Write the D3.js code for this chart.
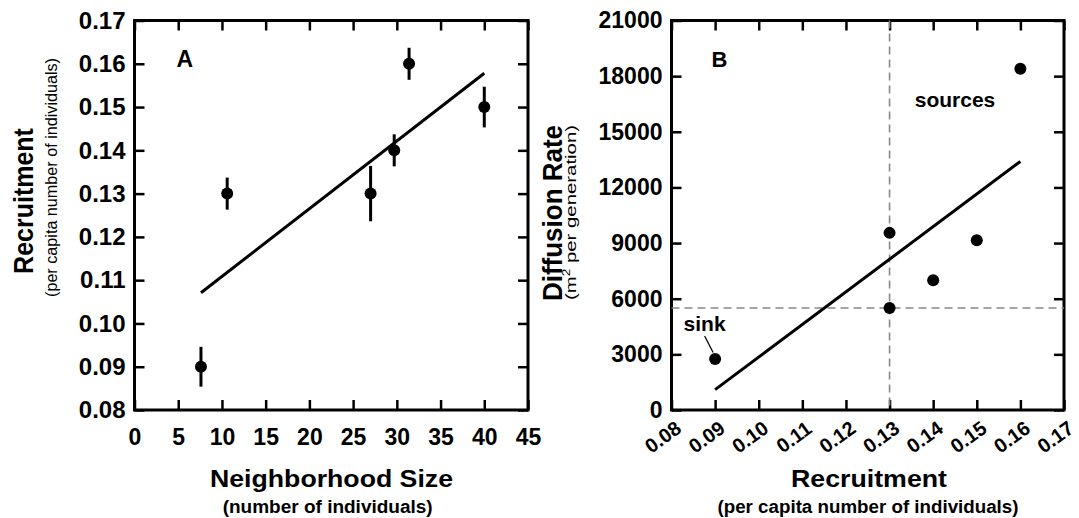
<!DOCTYPE html>
<html>
<head>
<meta charset="utf-8">
<script src="https://cdn.jsdelivr.net/npm/d3@7"></script>
<style>
  body { margin: 0; background: #fff; }
  svg text { font-family: "Liberation Sans", Arial, sans-serif; fill: #000; }
</style>
</head>
<body>
<div id="chart"></div>
<script>
// panel A: recruitment vs neighborhood size
var neighSize = [7.6, 10.6, 27.0, 29.7, 31.4, 40.0];
var recruitA = [0.09, 0.13, 0.13, 0.14, 0.16, 0.15];
var recruitErr = [0.0046, 0.0037, 0.0064, 0.0037, 0.0037, 0.0047];
var fitAx = [7.6, 40];
var fitAy = [0.1071, 0.1578];
var ticksAx = [0, 5, 10, 15, 20, 25, 30, 35, 40, 45];
var ticksAy = [0.08, 0.09, 0.10, 0.11, 0.12, 0.13, 0.14, 0.15, 0.16, 0.17];

// panel B: diffusion rate vs recruitment
var recruitB = [0.09, 0.13, 0.13, 0.14, 0.15, 0.16];
var diffusion = [2750, 9550, 5500, 7000, 9150, 18400];
var fitBx = [0.09, 0.16];
var fitBy = [1100, 13400];
var threshX = 0.13;
var threshY = 5500;
var ticksBx = [0.08, 0.09, 0.10, 0.11, 0.12, 0.13, 0.14, 0.15, 0.16, 0.17];
var ticksBy = [0, 3000, 6000, 9000, 12000, 15000, 18000, 21000];

var W = 1079, H = 518;
var svg = d3.select("#chart").append("svg")
    .attr("width", W)
    .attr("height", H);

var xA = d3.scaleLinear().domain([0, 45]).range([134.5, 528]);
var yA = d3.scaleLinear().domain([0.08, 0.17]).range([410, 20.5]);
var xB = d3.scaleLinear().domain([0.08, 0.17]).range([671.5, 1064]);
var yB = d3.scaleLinear().domain([0, 21000]).range([410, 20.5]);

// frame with inward ticks on all four sides
function drawFrame(x, y, xt, yt, xfmt, yfmt) {
  var x0 = x.range()[0], x1 = x.range()[1];
  var y0 = y.range()[0], y1 = y.range()[1];
  var g = svg.append("g");

  var bottom = g.append("g").attr("transform", "translate(0," + y0 + ")")
      .call(d3.axisBottom(x).tickValues(xt).tickFormat(xfmt)
        .tickSizeInner(-10).tickSizeOuter(0).tickPadding(19));
  g.append("g").attr("transform", "translate(0," + y1 + ")")
      .call(d3.axisTop(x).tickValues(xt).tickFormat(function() { return ""; })
        .tickSizeInner(-10).tickSizeOuter(0));
  var left = g.append("g").attr("transform", "translate(" + x0 + ",0)")
      .call(d3.axisLeft(y).tickValues(yt).tickFormat(yfmt)
        .tickSizeInner(-10).tickSizeOuter(0).tickPadding(9));
  g.append("g").attr("transform", "translate(" + x1 + ",0)")
      .call(d3.axisRight(y).tickValues(yt).tickFormat(function() { return ""; })
        .tickSizeInner(-10).tickSizeOuter(0));

  g.selectAll(".domain").remove();
  g.selectAll(".tick line").attr("stroke", "#000").attr("stroke-width", 2.5);

  g.append("rect")
    .attr("x", x0).attr("y", y1)
    .attr("width", x1 - x0).attr("height", y0 - y1)
    .attr("fill", "none").attr("stroke", "#000").attr("stroke-width", 3);

  return { g: g, bottom: bottom, left: left };
}

// ---------- panel A ----------
var fA = drawFrame(xA, yA, ticksAx, ticksAy, d3.format("d"), d3.format(".2f"));
fA.left.selectAll(".tick text")
  .style("font-size", "24px").style("font-weight", "bold");
fA.bottom.selectAll(".tick text")
  .style("font-size", "23px").style("font-weight", "bold");

svg.append("line")
  .attr("x1", xA(fitAx[0])).attr("y1", yA(fitAy[0]))
  .attr("x2", xA(fitAx[1])).attr("y2", yA(fitAy[1]))
  .attr("stroke", "#000").attr("stroke-width", 3);

var ptsA = neighSize.map(function(d, i) {
  return { x: d, y: recruitA[i], e: recruitErr[i] };
});

svg.append("g").selectAll("line")
  .data(ptsA).enter().append("line")
  .attr("x1", function(d) { return xA(d.x); })
  .attr("x2", function(d) { return xA(d.x); })
  .attr("y1", function(d) { return yA(d.y - d.e); })
  .attr("y2", function(d) { return yA(d.y + d.e); })
  .attr("stroke", "#000").attr("stroke-width", 3);

svg.append("g").selectAll("circle")
  .data(ptsA).enter().append("circle")
  .attr("cx", function(d) { return xA(d.x); })
  .attr("cy", function(d) { return yA(d.y); })
  .attr("r", 6)
  .attr("fill", "#000");

svg.append("text")
  .attr("x", 176.5).attr("y", 66.5)
  .style("font-size", "23px").style("font-weight", "bold")
  .text("A");

// axis titles A
svg.append("text")
  .attr("transform", "translate(33,201) rotate(-90) scale(1,1.12)")
  .attr("text-anchor", "middle")
  .style("font-size", "25px").style("font-weight", "bold")
  .text("Recruitment");
svg.append("text")
  .attr("transform", "translate(56.5,177.5) rotate(-90) scale(1,1.08)")
  .attr("text-anchor", "middle")
  .attr("textLength", 239).attr("lengthAdjust", "spacingAndGlyphs")
  .style("font-size", "16px")
  .text("(per capita number of individuals)");
svg.append("text")
  .attr("x", 331.5).attr("y", 487)
  .attr("text-anchor", "middle")
  .attr("textLength", 243).attr("lengthAdjust", "spacingAndGlyphs")
  .style("font-size", "24px").style("font-weight", "bold")
  .text("Neighborhood Size");
svg.append("text")
  .attr("x", 327.7).attr("y", 513)
  .attr("text-anchor", "middle")
  .attr("textLength", 210).attr("lengthAdjust", "spacingAndGlyphs")
  .style("font-size", "18px").style("font-weight", "bold")
  .text("(number of individuals)");

// ---------- panel B ----------
var fB = drawFrame(xB, yB, ticksBx, ticksBy, d3.format(".2f"), d3.format("d"));
fB.left.selectAll(".tick text")
  .style("font-size", "23px").style("font-weight", "bold");
fB.bottom.selectAll(".tick text")
  .attr("y", 0).attr("dy", null)
  .attr("text-anchor", "middle")
  .attr("dominant-baseline", "central")
  .attr("transform", "translate(-9,27) rotate(-36)")
  .style("font-size", "20px").style("font-weight", "bold");

// threshold lines
svg.append("line")
  .attr("x1", xB(threshX)).attr("x2", xB(threshX))
  .attr("y1", yB.range()[1]).attr("y2", yB.range()[0])
  .attr("stroke", "#888").attr("stroke-width", 1.6)
  .attr("stroke-dasharray", "8,5");
svg.append("line")
  .attr("x1", xB.range()[0]).attr("x2", xB.range()[1])
  .attr("y1", yB(threshY)).attr("y2", yB(threshY))
  .attr("stroke", "#888").attr("stroke-width", 1.6)
  .attr("stroke-dasharray", "8,5");

svg.append("line")
  .attr("x1", xB(fitBx[0])).attr("y1", yB(fitBy[0]))
  .attr("x2", xB(fitBx[1])).attr("y2", yB(fitBy[1]))
  .attr("stroke", "#000").attr("stroke-width", 3);

svg.append("g").selectAll("circle")
  .data(recruitB).enter().append("circle")
  .attr("cx", function(d) { return xB(d); })
  .attr("cy", function(d, i) { return yB(diffusion[i]); })
  .attr("r", 6)
  .attr("fill", "#000");

svg.append("text")
  .attr("x", 711.5).attr("y", 66.5)
  .style("font-size", "22px").style("font-weight", "bold")
  .text("B");

// annotations
svg.append("text")
  .attr("x", 955).attr("y", 107)
  .attr("text-anchor", "middle")
  .style("font-size", "21px").style("font-weight", "bold")
  .text("sources");

var sx = xB(recruitB[0]), sy = yB(diffusion[0]);
svg.append("text")
  .attr("x", sx - 10.5).attr("y", sy - 28)
  .attr("text-anchor", "middle")
  .style("font-size", "21px").style("font-weight", "bold")
  .text("sink");
svg.append("line")
  .attr("x1", sx - 10.5).attr("y1", sy - 23)
  .attr("x2", sx - 2).attr("y2", sy - 6.5)
  .attr("stroke", "#000").attr("stroke-width", 1.3);

// axis titles B
svg.append("text")
  .attr("transform", "translate(562,213) rotate(-90) scale(1,1.05)")
  .attr("text-anchor", "middle")
  .style("font-size", "26px").style("font-weight", "bold")
  .text("Diffusion Rate");
var sub = svg.append("text")
  .attr("transform", "translate(576,212.5) rotate(-90)")
  .attr("text-anchor", "middle")
  .attr("textLength", 175).attr("lengthAdjust", "spacingAndGlyphs")
  .style("font-size", "15px");
sub.append("tspan").text("(m");
sub.append("tspan").attr("dy", -6).style("font-size", "10px").text("2");
sub.append("tspan").attr("dy", 6).text(" per generation)");

svg.append("text")
  .attr("x", 869).attr("y", 487)
  .attr("text-anchor", "middle")
  .attr("textLength", 156).attr("lengthAdjust", "spacingAndGlyphs")
  .style("font-size", "24px").style("font-weight", "bold")
  .text("Recruitment");
svg.append("text")
  .attr("x", 868).attr("y", 513)
  .attr("text-anchor", "middle")
  .attr("textLength", 301).attr("lengthAdjust", "spacingAndGlyphs")
  .style("font-size", "18px").style("font-weight", "bold")
  .text("(per capita number of individuals)");
</script>
</body>
</html>
